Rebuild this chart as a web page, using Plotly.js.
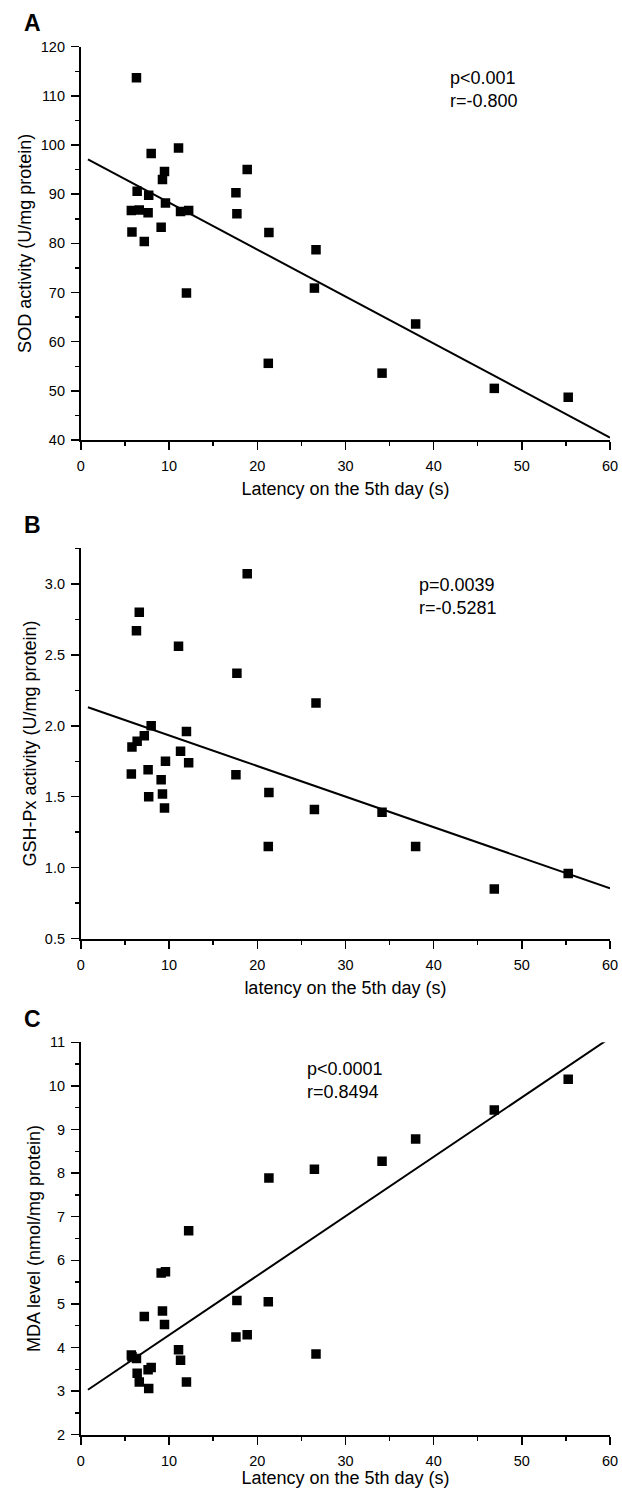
<!DOCTYPE html>
<html><head><meta charset="utf-8">
<script src="https://cdn.plot.ly/plotly-3.0.1.min.js"></script>
<style>body{margin:0;padding:0;background:#fff}#chart{width:622px;height:1488px}</style>
</head><body><div id="chart"></div>
<script>
// Latency on the 5th day (s) — shared by all three panels
const latency = [5.72, 5.79, 6.3, 6.38, 6.62, 7.19, 7.62, 7.69, 7.97, 9.1, 9.25, 9.48, 9.59, 11.07, 11.3, 11.97, 12.22, 17.58, 17.69, 18.86, 21.25, 21.32, 26.48, 26.66, 34.15, 37.96, 46.88, 55.26];
// Panel A: SOD activity (U/mg protein)
const sod = [86.7, 82.3, 113.7, 90.6, 86.8, 80.4, 86.2, 89.8, 98.3, 83.3, 93.0, 94.6, 88.2, 99.4, 86.5, 69.9, 86.7, 90.3, 86.0, 95.0, 55.6, 82.2, 70.9, 78.7, 53.6, 63.6, 50.5, 48.7];
// Panel B: GSH-Px activity (U/mg protein)
const gshpx = [1.66, 1.85, 2.67, 1.89, 2.80, 1.93, 1.69, 1.50, 2.00, 1.62, 1.52, 1.42, 1.75, 2.56, 1.82, 1.96, 1.74, 1.655, 2.37, 3.07, 1.15, 1.53, 1.41, 2.16, 1.39, 1.15, 0.85, 0.96];
// Panel C: MDA level (nmol/mg protein)
const mda = [3.83, 3.79, 3.75, 3.41, 3.21, 4.71, 3.49, 3.06, 3.54, 5.71, 4.84, 4.53, 5.74, 3.95, 3.71, 3.21, 6.68, 4.24, 5.08, 4.29, 5.05, 7.89, 8.09, 3.85, 8.27, 8.78, 9.45, 10.15];
// Regression lines (end points)
const fitX = [0.8, 60];
const sodFit = [97.1, 40.5];
const gshFit = [2.13, 0.855];
const mdaFit = [3.03, 11.1];
// Text
const panelLetters = ['A', 'B', 'C'];
const xTitles = ['Latency on the 5th day (s)', 'latency on the 5th day (s)', 'Latency on the 5th day (s)'];
const yTitles = ['SOD activity (U/mg protein)', 'GSH-Px activity (U/mg protein)', 'MDA level (nmol/mg protein)'];
const statsText = ['p<0.001<br>r=-0.800', 'p=0.0039<br>r=-0.5281', 'p<0.0001<br>r=0.8494'];
const yTickFormats = ['d', '.1f', 'd'];

const W = 622, H = 1488;
const FONT = 'Liberation Sans, Arial, Helvetica, sans-serif';
const px = v => v / W;
const py = v => 1 - v / H;

const xDom = [px(80.9), px(610)];
const yDoms = [[py(440), py(46.7)], [py(938.7), py(548.3)], [py(1434.7), py(1042.3)]];
const yRanges = [[40, 120], [0.5, 3.25], [2, 11]];
const yDticks = [10, 0.5, 1];
const yMinor = [5, 0.25, 0.5];
const xTitleStandoff = [9, 9, 4];
const ys = [sod, gshpx, mda];
const fits = [sodFit, gshFit, mdaFit];

const data = [];
const layout = {
  width: W, height: H,
  margin: {l: 0, r: 0, t: 0, b: 0},
  paper_bgcolor: '#fff', plot_bgcolor: '#fff',
  showlegend: false,
  font: {family: FONT, color: '#000', size: 14},
  annotations: []
};

for (let i = 0; i < 3; i++) {
  const s = i === 0 ? '' : String(i + 1);
  data.push({
    x: latency, y: ys[i], type: 'scatter', mode: 'markers',
    xaxis: 'x' + s, yaxis: 'y' + s,
    marker: {symbol: 'square', size: 9.5, color: '#000'},
    hoverinfo: 'x+y'
  });
  data.push({
    x: fitX, y: fits[i], type: 'scatter', mode: 'lines',
    xaxis: 'x' + s, yaxis: 'y' + s,
    line: {color: '#000', width: 2},
    hoverinfo: 'skip'
  });
  const common = {
    ticks: 'outside', ticklen: 8, tickwidth: 1.5, tickcolor: '#000',
    showline: true, linewidth: 2, linecolor: '#000',
    showgrid: false, zeroline: false, mirror: false,
    tickfont: {family: FONT, size: 14.5, color: '#000'},
    fixedrange: true
  };
  layout['xaxis' + s] = Object.assign({}, common, {
    domain: xDom, anchor: 'y' + s, range: [0, 60], tick0: 0, dtick: 10,
    ticklabelstandoff: 4,
    minor: {dtick: 5, ticks: 'outside', ticklen: 4, tickwidth: 1.5, tickcolor: '#000', showgrid: false},
    title: {text: xTitles[i], font: {family: FONT, size: 18, color: '#000'}, standoff: xTitleStandoff[i]}
  });
  layout['yaxis' + s] = Object.assign({}, common, {
    domain: yDoms[i], anchor: 'x' + s, range: yRanges[i], tick0: yRanges[i][0], dtick: yDticks[i],
    tickformat: yTickFormats[i], ticklabelstandoff: 3,
    minor: {dtick: yMinor[i], ticks: 'outside', ticklen: 4, tickwidth: 1.5, tickcolor: '#000', showgrid: false},
    title: {text: yTitles[i], font: {family: FONT, size: 18, color: '#000'}, standoff: 4}
  });
}

const letterY = [23.5, 525, 1019];
const statsPos = [[447.7, 89.5], [416.7, 597], [305, 1080]];
for (let i = 0; i < 3; i++) {
  layout.annotations.push({
    text: '<b>' + panelLetters[i] + '</b>', xref: 'paper', yref: 'paper',
    x: px(22), y: py(letterY[i]), xanchor: 'left', yanchor: 'middle',
    showarrow: false, font: {family: FONT, size: 23, color: '#000'}
  });
  layout.annotations.push({
    text: statsText[i], xref: 'paper', yref: 'paper',
    x: px(statsPos[i][0]), y: py(statsPos[i][1]), xanchor: 'left', yanchor: 'middle', align: 'left',
    showarrow: false, font: {family: FONT, size: 18, color: '#000'}
  });
}

Plotly.newPlot('chart', data, layout, {displayModeBar: false, staticPlot: true});
</script>
</body></html>
